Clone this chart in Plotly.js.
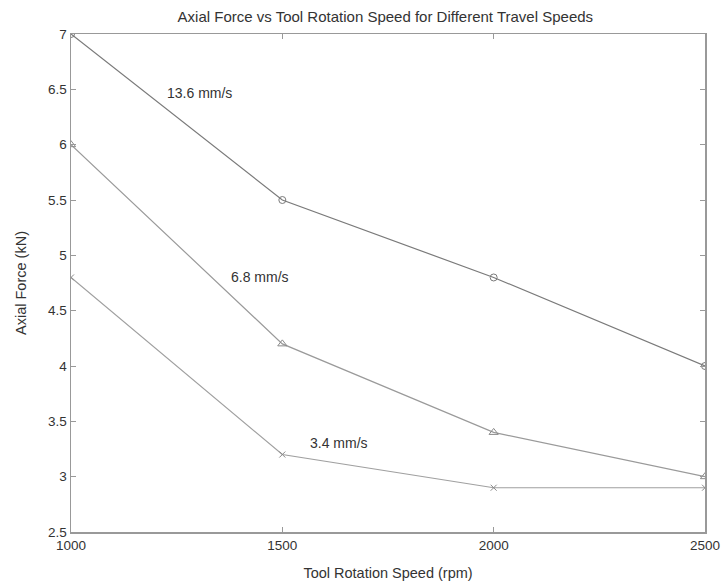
<!DOCTYPE html>
<html>
<head>
<meta charset="utf-8">
<script src="https://cdn.plot.ly/plotly-3.0.1.min.js"></script>
<style>html,body{margin:0;padding:0;background:#fff;}#chart{width:723px;height:586px;}</style>
</head>
<body>
<div id="chart"></div>
<script>
const rotationSpeeds = [1000, 1500, 2000, 2500];
const force136 = [7.0, 5.5, 4.8, 4.0];
const force68 = [6.0, 4.2, 3.4, 3.0];
const force34 = [4.8, 3.2, 2.9, 2.9];
const seriesLabels = ["13.6 mm/s", "6.8 mm/s", "3.4 mm/s"];
const labelX = [1305, 1447, 1634];
const labelY = [6.47, 4.80, 3.30];
const xTicks = [1000, 1500, 2000, 2500];
const yTicks = [2.5, 3, 3.5, 4, 4.5, 5, 5.5, 6, 6.5, 7];

const traces = [
  {x: rotationSpeeds, y: force136, mode: 'lines+markers', name: seriesLabels[0],
   line: {color: '#7a7a7a', width: 1.2},
   marker: {symbol: 'circle-open', size: 7, color: '#7a7a7a', line: {width: 1}}},
  {x: rotationSpeeds, y: force68, mode: 'lines+markers', name: seriesLabels[1],
   line: {color: '#9a9a9a', width: 1.2},
   marker: {symbol: 'triangle-up-open', size: 8, color: '#8a8a8a', line: {width: 1}}},
  {x: rotationSpeeds, y: force34, mode: 'lines+markers', name: seriesLabels[2],
   line: {color: '#a0a0a0', width: 1.2},
   marker: {symbol: 'x-thin-open', size: 6, color: '#8a8a8a', line: {width: 1}}}
];

const annotations = seriesLabels.map((t, i) => ({
  x: labelX[i], y: labelY[i], xref: 'x', yref: 'y', text: t, showarrow: false,
  font: {family: 'Liberation Sans, Arial, sans-serif', size: 14, color: '#333'}
}));

const layout = {
  width: 723, height: 586,
  margin: {l: 71, r: 18, t: 34, b: 54},
  paper_bgcolor: '#fff', plot_bgcolor: '#fff',
  showlegend: false,
  font: {family: 'Liberation Sans, Arial, sans-serif', size: 13, color: '#333'},
  title: {text: 'Axial Force vs Tool Rotation Speed for Different Travel Speeds',
          x: 0.533, xref: 'container', xanchor: 'center', y: 0.971, yanchor: 'middle',
          font: {size: 15, color: '#333'}},
  xaxis: {range: [1000, 2500], tickvals: xTicks, ticktext: xTicks.map(String),
          ticks: 'inside', ticklen: 5, tickcolor: '#999', showline: true, linecolor: '#999',
          linewidth: 1.5, mirror: 'allticks', showgrid: false, zeroline: false,
          title: {text: 'Tool Rotation Speed (rpm)', standoff: 16, font: {size: 14.5}},
          tickfont: {size: 13.5}},
  yaxis: {range: [2.5, 7], tickvals: yTicks, ticktext: yTicks.map(String),
          ticks: 'inside', ticklen: 5, tickcolor: '#999', showline: true, linecolor: '#999',
          linewidth: 1.5, mirror: 'allticks', showgrid: false, zeroline: false,
          title: {text: 'Axial Force (kN)', standoff: 18, font: {size: 14.5}},
          tickfont: {size: 13.5}},
  annotations: annotations
};

Plotly.newPlot('chart', traces, layout, {displayModeBar: false, staticPlot: true});
</script>
</body>
</html>
